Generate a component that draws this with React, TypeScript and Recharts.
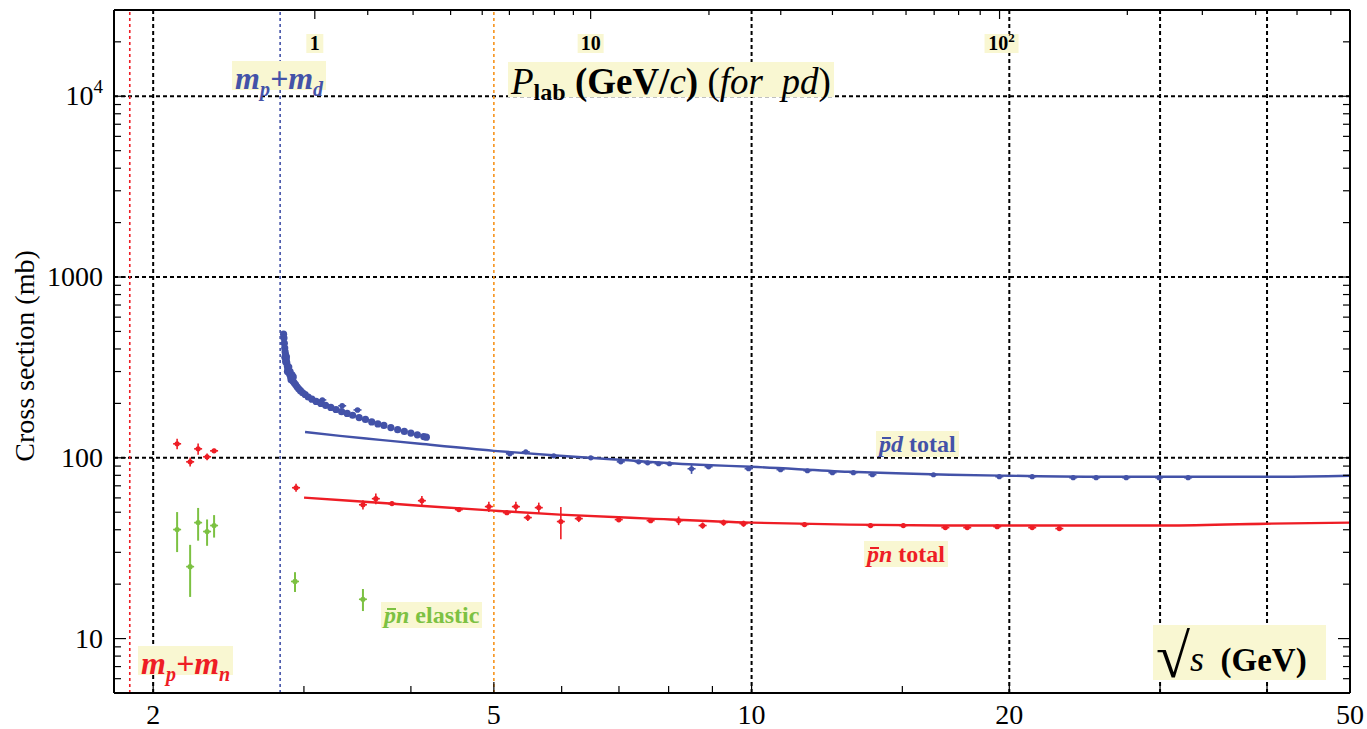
import React from "react";
import {
  ComposedChart,
  XAxis,
  YAxis,
  Line,
  Scatter,
  ErrorBar,
  ReferenceLine,
} from "recharts";

const BLUE = "#4352a8";
const RED = "#ee1d25";
const GREEN = "#7cc142";
const ORANGE = "#f7941d";
const HILITE = "#f9f7d2";
const SERIF = "Liberation Serif, Times New Roman, serif";

const W = 1367;
const H = 729;

// sqrt(s) axis (bottom)
const xTicks = [2, 3, 4, 5, 6, 7, 8, 9, 10, 15, 20, 30, 40, 50];
const xLabels = [2, 5, 10, 20, 50];

// cross section axis
const yTicks = [
  5, 6, 7, 8, 9, 10, 20, 30, 40, 50, 60, 70, 80, 90, 100, 200, 300, 400, 500,
  600, 700, 800, 900, 1000, 2000, 3000, 4000, 5000, 6000, 7000, 8000, 9000,
  10000, 20000, 30000,
];
const yLabels = [10, 100, 1000, 10000];

// P_lab (GeV/c) for pd, top axis
const plabTicks = [
  1, 2, 3, 4, 5, 6, 7, 8, 9, 10, 20, 30, 40, 50, 60, 70, 80, 90, 100, 200, 300,
  400, 500, 600,
];
const plabLabels = [1, 10, 100];
const MP = 0.938272;
const MD = 1.875613;
const rootS = (p: number) =>
  Math.sqrt(MP * MP + MD * MD + 2 * MD * Math.sqrt(p * p + MP * MP));
const topTicks = plabTicks.map(rootS);

// thresholds
const mpmn = 1.878;
const mpmd = 2.814;

// pd total: dense low-energy data [sqrt(s), mb]
const pdDense: [number, number][] = [
  [2.840, 483], [2.843, 460], [2.846, 430], [2.849, 405], [2.850, 360],
  [2.852, 385], [2.855, 372], [2.856, 340], [2.858, 355], [2.861, 345],
  [2.862, 362], [2.865, 335], [2.869, 322], [2.870, 300], [2.873, 312],
  [2.877, 305], [2.880, 318], [2.882, 296], [2.888, 289], [2.890, 300],
  [2.895, 280], [2.898, 270], [2.903, 273], [2.905, 288], [2.912, 266],
  [2.915, 280], [2.922, 260], [2.933, 254], [2.945, 247], [2.958, 241],
  [2.972, 235], [2.990, 229], [3.010, 224], [3.035, 217], [3.065, 211],
  [3.100, 205], [3.140, 200], [3.180, 195], [3.225, 190], [3.270, 185],
  [3.320, 180], [3.370, 176], [3.420, 172], [3.480, 167], [3.540, 163],
  [3.600, 158], [3.660, 154], [3.720, 151], [3.790, 147], [3.860, 143],
  [3.930, 140], [4.000, 137], [4.070, 134], [4.140, 131], [4.170, 130],
];
const pdOutliers: [number, number][] = [
  [3.152, 209], [3.325, 194], [3.465, 184],
];
// pd total: [sqrt(s), mb, error]
const pdPoints: [number, number, number][] = [
  [5.22, 105.2, 1.5], [5.448, 107.9, 1.5], [5.874, 102.6, 1.5],
  [6.489, 100, 1.5], [7.034, 95.0, 1.5], [7.381, 95.0, 1.2],
  [7.561, 93.8, 1.2], [7.787, 92.7, 1.2], [8.021, 92.7, 1.2],
  [8.509, 87.0, 5.5], [8.908, 89.2, 1.5], [9.92, 87.0, 1.5],
  [10.81, 85.9, 1.2], [11.62, 84.8, 1.2], [12.43, 82.7, 1.2],
  [13.15, 82.7, 1], [13.84, 80.6, 1], [16.31, 80.6, 1], [19.47, 78.6, 1.5],
  [21.27, 78.6, 1], [23.75, 77.6, 1], [25.26, 77.6, 1], [27.39, 77.6, 1],
  [29.92, 77.6, 1], [32.35, 77.6, 1],
];
const pdCurve: [number, number][] = [
  [3.009, 139], [3.305, 132.2], [3.681, 125.7], [4.099, 119.5], [5.0, 109.3],
  [5.97, 102.6], [7.015, 97.5], [8.695, 91.5], [10, 89.2], [13.01, 83.7],
  [17.02, 80.6], [20, 79.6], [25.47, 78.6], [33.32, 78.6], [41.3, 78.6],
  [50, 79.6],
];

// pn total
const pnLow: [number, number, number][] = [
  [2.133, 119.5, 8], [2.209, 95.0, 5.5], [2.257, 112.1, 8],
  [2.312, 101.3, 4.5], [2.356, 109.3, 3],
];
const pnPoints: [number, number, number][] = [
  [2.937, 68.3, 3.5], [3.516, 55.0, 3.3], [3.64, 59.4, 4], [3.801, 55.8, 1.5],
  [4.12, 57.9, 3.5], [4.551, 51.7, 1.3], [4.933, 53.7, 3.5], [5.178, 49.7, 1.3],
  [5.305, 53.7, 3.5], [5.478, 46.7, 2], [5.642, 53.0, 3.5], [5.987, 44.4, 9],
  [6.283, 46.1, 2], [6.996, 45.5, 1.5], [7.622, 44.9, 1.2], [8.218, 44.9, 2.5],
  [8.766, 42.2, 1.7], [9.275, 43.8, 1.7], [9.786, 43.2, 1.7], [11.53, 42.7, 1],
  [13.77, 42.2, 1], [15.04, 42.2, 1], [16.84, 41.1, 1], [17.86, 41.1, 1],
  [19.36, 41.6, 1], [21.27, 41.1, 1], [22.88, 40.6, 1],
];
const pnCurve: [number, number][] = [
  [3.001, 60.2], [3.395, 57.9], [4.099, 54.3], [5, 51.0], [5.97, 48.5],
  [7.6, 46.1], [10, 43.8], [13.01, 42.7], [17.02, 42.2], [22.27, 42.2],
  [29.9, 42.2], [39.9, 43.2], [50, 43.8],
];

// pn elastic
const pnElastic: [number, number, number][] = [
  [2.133, 40.1, 10], [2.209, 25.0, 8], [2.257, 43.8, 9], [2.312, 39.1, 6.5],
  [2.356, 42.2, 6], [2.929, 20.7, 2.6], [3.516, 16.5, 2.3],
];

const pts = (a: [number, number][]) => a.map(([x, y]) => ({ x, y }));
const errPts = (a: [number, number, number][]) =>
  a.map(([x, y, e]) => ({ x, y, e }));

const dot = (color: string, r = 2.6, bar = 4) => (props: any) => {
  const { cx, cy } = props;
  if (cx == null || cy == null) return <g />;
  return (
    <g>
      <circle cx={cx} cy={cy} r={r} fill={color} />
      {bar > 0 && (
        <line x1={cx - bar} x2={cx + bar} y1={cy} y2={cy} stroke={color} strokeWidth={1.6} />
      )}
    </g>
  );
};

const BottomTick = ({ x, y, payload }: any) => {
  const v = payload.value;
  const major = xLabels.includes(v);
  return (
    <g>
      <line x1={x} x2={x} y1={y} y2={y - (major ? 11 : 7)} stroke="#000" strokeWidth={1.2} />
      {major && (
        <text x={x} y={y + 31} textAnchor="middle" fontFamily={SERIF} fontSize={28} fill="#000">
          {v}
        </text>
      )}
    </g>
  );
};

const LeftTick = ({ x, y, payload }: any) => {
  const v = payload.value;
  const major = yLabels.includes(v);
  return (
    <g>
      <line x1={x} x2={x + (major ? 12 : 7)} y1={y} y2={y} stroke="#000" strokeWidth={1.2} />
      {major && (
        <text x={x - 11} y={y + 9} textAnchor="end" fontFamily={SERIF} fontSize={28} fill="#000">
          {v === 10000 ? (
            <>
              10<tspan dy={-12} fontSize={19}>4</tspan>
            </>
          ) : (
            v
          )}
        </text>
      )}
    </g>
  );
};

const RightTick = ({ x, y, payload }: any) => {
  const major = yLabels.includes(payload.value);
  return <line x1={x} x2={x - (major ? 12 : 7)} y1={y} y2={y} stroke="#000" strokeWidth={1.2} />;
};

const TopTick = ({ x, y, payload }: any) => {
  let idx = 0;
  topTicks.forEach((t, i) => {
    if (Math.abs(t - payload.value) < Math.abs(topTicks[idx] - payload.value)) idx = i;
  });
  const p = plabTicks[idx];
  const major = plabLabels.includes(p);
  const w = p === 1 ? 17 : p === 10 ? 26 : 34;
  return (
    <g>
      <line x1={x} x2={x} y1={y} y2={y + (major ? 9 : 5)} stroke="#000" strokeWidth={1.2} />
      {major && (
        <g>
          <rect x={x - w / 2 + (p === 100 ? 2 : 0)} y={34} width={w} height={19} fill={HILITE} />
          <text x={x + (p === 100 ? 2 : 0)} y={50} textAnchor="middle" fontFamily={SERIF} fontSize={20} fontWeight="bold" fill="#000">
            {p === 100 ? (
              <>
                10<tspan dy={-8} fontSize={13}>2</tspan>
              </>
            ) : (
              p
            )}
          </text>
        </g>
      )}
    </g>
  );
};

const Tag = ({ left, top, children, style }: any) => (
  <div
    style={{
      position: "absolute",
      left,
      top,
      background: HILITE,
      fontFamily: SERIF,
      whiteSpace: "nowrap",
      lineHeight: 1,
      padding: "1px 3px",
      ...style,
    }}
  >
    {children}
  </div>
);

const Sub = ({ children, size = 20, drop = 7 }: any) => (
  <span style={{ fontSize: size, position: "relative", top: drop }}>{children}</span>
);

// antiparticle bar, sitting just above the x-height
const Bar = ({ children }: any) => (
  <span style={{ position: "relative", display: "inline-block" }}>
    {children}
    <span
      style={{
        position: "absolute",
        left: "0.14em",
        right: "-0.02em",
        top: "0.2em",
        borderTop: "2px solid currentColor",
      }}
    />
  </span>
);

export default function App() {
  const dash = "4 3";
  return (
    <div style={{ position: "absolute", left: 0, top: 0, width: W, height: H, background: "#fff" }}>
      <ComposedChart width={W} height={H} margin={{ top: 0, right: 0, bottom: 0, left: 0 }}>
        <XAxis
          xAxisId={0}
          type="number"
          dataKey="x"
          scale="log"
          domain={[1.8, 50]}
          allowDataOverflow
          ticks={xTicks}
          interval={0}
          tickSize={0}
          tickMargin={0}
          height={36}
          tick={<BottomTick />}
          axisLine={{ stroke: "#000", strokeWidth: 2 }}
          tickLine={false}
        />
        <XAxis
          xAxisId="top"
          orientation="top"
          type="number"
          dataKey="x"
          scale="log"
          domain={[1.8, 50]}
          allowDataOverflow
          ticks={topTicks}
          interval={0}
          tickSize={0}
          tickMargin={0}
          height={10}
          tick={<TopTick />}
          axisLine={{ stroke: "#000", strokeWidth: 2 }}
          tickLine={false}
        />
        <YAxis
          yAxisId={0}
          type="number"
          dataKey="y"
          scale="log"
          domain={[5, 30000]}
          allowDataOverflow
          ticks={yTicks}
          interval={0}
          tickSize={0}
          tickMargin={0}
          width={114}
          tick={<LeftTick />}
          axisLine={{ stroke: "#000", strokeWidth: 2 }}
          tickLine={false}
        />
        <YAxis
          yAxisId="right"
          orientation="right"
          type="number"
          dataKey="y"
          scale="log"
          domain={[5, 30000]}
          allowDataOverflow
          ticks={yTicks}
          interval={0}
          tickSize={0}
          tickMargin={0}
          width={17}
          tick={<RightTick />}
          axisLine={{ stroke: "#000", strokeWidth: 2 }}
          tickLine={false}
        />

        {[10000, 1000, 100].map((v) => (
          <ReferenceLine key={`h${v}`} y={v} stroke="#000" strokeWidth={2} strokeDasharray={dash} />
        ))}
        {[2, 10, 20, 30, 40].map((v) => (
          <ReferenceLine key={`v${v}`} x={v} stroke="#000" strokeWidth={2} strokeDasharray={dash} />
        ))}
        <ReferenceLine x={mpmn} stroke={RED} strokeWidth={1.6} strokeDasharray="3 3" />
        <ReferenceLine x={mpmd} stroke={BLUE} strokeWidth={1.6} strokeDasharray="3 3" />
        <ReferenceLine x={5} stroke={ORANGE} strokeWidth={1.6} strokeDasharray="3 3" />

        <Line
          data={pts(pdCurve)}
          dataKey="y"
          type="monotone"
          stroke={BLUE}
          strokeWidth={2.4}
          dot={false}
          isAnimationActive={false}
        />
        <Line
          data={pts(pnCurve)}
          dataKey="y"
          type="monotone"
          stroke={RED}
          strokeWidth={2.4}
          dot={false}
          isAnimationActive={false}
        />

        <Scatter data={pts(pdDense)} dataKey="y" shape={dot(BLUE, 3.6, 0)} isAnimationActive={false} />
        <Scatter data={pts(pdOutliers)} dataKey="y" shape={dot(BLUE, 2.8, 4)} isAnimationActive={false} />
        <Scatter data={errPts(pdPoints)} dataKey="y" shape={dot(BLUE, 2.6, 4)} isAnimationActive={false}>
          <ErrorBar dataKey="e" direction="y" width={0} stroke={BLUE} strokeWidth={1.6} />
        </Scatter>
        <Scatter data={errPts(pnLow)} dataKey="y" shape={dot(RED, 2.6, 4)} isAnimationActive={false}>
          <ErrorBar dataKey="e" direction="y" width={0} stroke={RED} strokeWidth={1.6} />
        </Scatter>
        <Scatter data={errPts(pnPoints)} dataKey="y" shape={dot(RED, 2.6, 4)} isAnimationActive={false}>
          <ErrorBar dataKey="e" direction="y" width={0} stroke={RED} strokeWidth={1.6} />
        </Scatter>
        <Scatter data={errPts(pnElastic)} dataKey="y" shape={dot(GREEN, 2.6, 4)} isAnimationActive={false}>
          <ErrorBar dataKey="e" direction="y" width={0} stroke={GREEN} strokeWidth={2} />
        </Scatter>
      </ComposedChart>

      {/* axis title */}
      <div
        style={{
          position: "absolute",
          left: 25,
          top: 356,
          transform: "translate(-50%, -50%) rotate(-90deg)",
          fontFamily: SERIF,
          fontSize: 28,
          whiteSpace: "nowrap",
        }}
      >
        Cross section (mb)
      </div>

      {/* annotations */}
      <Tag left={232} top={61} style={{ color: BLUE, fontSize: 32, fontWeight: "bold", fontStyle: "italic", height: 27 }}>
        m<Sub>p</Sub>+m<Sub>d</Sub>
      </Tag>
      <Tag left={138} top={646} style={{ color: RED, fontSize: 32, fontWeight: "bold", fontStyle: "italic", height: 27 }}>
        m<Sub>p</Sub>+m<Sub>n</Sub>
      </Tag>
      <Tag left={508} top={62} style={{ color: "#000", fontSize: 37, height: 33 }}>
        <i>P</i>
        <b>
          <Sub size={24} drop={6}>lab</Sub> (GeV/<i style={{ fontWeight: "normal" }}>c</i>)
        </b>{" "}
        (<i>for&nbsp;&nbsp;pd</i>)
      </Tag>
      <Tag left={876} top={431} style={{ color: BLUE, fontSize: 24, fontWeight: "bold" }}>
        <i><Bar>p</Bar>d</i> total
      </Tag>
      <Tag left={864} top={541} style={{ color: RED, fontSize: 24, fontWeight: "bold" }}>
        <i><Bar>p</Bar>n</i> total
      </Tag>
      <Tag left={381} top={602} style={{ color: GREEN, fontSize: 24, fontWeight: "bold" }}>
        <i><Bar>p</Bar>n</i> elastic
      </Tag>
      <Tag left={1153} top={625} style={{ color: "#000", width: 167, height: 55, padding: "0 3px" }}>
        <span style={{ fontSize: 62, position: "relative", top: 0 }}>√</span>
        <span style={{ fontSize: 36, fontStyle: "italic", position: "relative", top: -6 }}>s</span>
        <span style={{ fontSize: 33, fontWeight: "bold", position: "relative", top: -6 }}>&nbsp;&nbsp;(GeV)</span>
      </Tag>
    </div>
  );
}
